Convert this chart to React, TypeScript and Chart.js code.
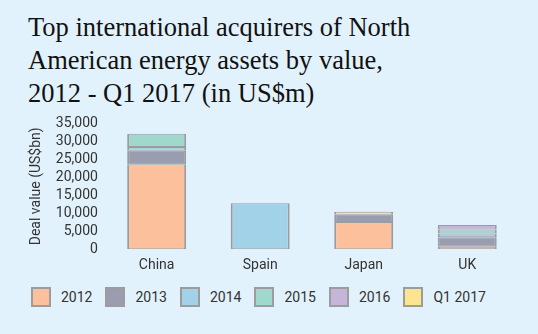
import React, { useEffect, useRef } from "react";
import { Chart, registerables } from "chart.js";

Chart.register(...registerables);

const categories = ["China", "Spain", "Japan", "UK"];
const seriesLabels = ["2012", "2013", "2014", "2015", "2016", "Q1 2017"];
const v2012 = [23600, null, 7600, 700];
const v2013 = [3800, null, 2000, 2600];
const v2014 = [1000, 12800, null, 1100];
const v2015 = [3700, null, null, 1100];
const v2016 = [null, null, null, 1200];
const vQ12017 = [null, null, 800, null];
const seriesValues = [v2012, v2013, v2014, v2015, v2016, vQ12017];
const seriesColors = ["#fdc09c", "#9a9cb0", "#a2d2e8", "#9fd9cd", "#c7b5d9", "#fde48f"];
const yTicks = [0, 5000, 10000, 15000, 20000, 25000, 30000, 35000];

const BG = "#e1f2fc";
const FONT = "Roboto, 'Open Sans', sans-serif";
const BORDER = "#9c9c9c";

export default function App() {
  const ref = useRef<HTMLCanvasElement | null>(null);

  useEffect(() => {
    document.body.style.margin = "0";
    document.body.style.background = BG;
    const chart = new Chart(ref.current!, {
      type: "bar",
      data: {
        labels: categories,
        datasets: seriesLabels.map((l, i) => ({
          label: l,
          data: seriesValues[i],
          backgroundColor: seriesColors[i],
          borderColor: BORDER,
          borderWidth: { top: 1, bottom: 1, left: 2, right: 2 },
          borderSkipped: false,
          barPercentage: 0.57,
          categoryPercentage: 1,
        })),
      },
      options: {
        animation: false,
        responsive: false,
        maintainAspectRatio: false,
        layout: { padding: { left: 28, right: 19, top: 12, bottom: 5 } },
        plugins: {
          tooltip: { enabled: false },
          legend: { display: false },
        },
        scales: {
          x: {
            stacked: true,
            grid: { display: false, drawTicks: false },
            border: { display: false },
            ticks: { color: "#333", font: { family: FONT, size: 14 }, padding: 8 },
          },
          y: {
            stacked: true,
            min: 0,
            max: 35000,
            afterBuildTicks: (axis: any) => {
              axis.ticks = yTicks.map((v) => ({ value: v }));
            },
            grid: { display: false, drawTicks: false },
            border: { display: false },
            ticks: {
              autoSkip: false,
              color: "#333",
              font: { family: FONT, size: 14 },
              padding: 7,
              callback: (v: any) => Number(v).toLocaleString("en-US"),
            },
            title: {
              display: true,
              text: "Deal value (US$bn)",
              color: "#333",
              font: { family: FONT, size: 14 },
              padding: { top: 0, bottom: 4 },
            },
          },
        },
      },
    });
    return () => chart.destroy();
  }, []);

  return (
    <div style={{ position: "relative", width: 538, height: 334, background: BG, overflow: "hidden" }}>
      <div
        style={{
          position: "absolute",
          left: 28,
          top: 11,
          fontFamily: "'Liberation Serif', 'DejaVu Serif', serif",
          fontSize: 26.5,
          lineHeight: "33px",
          color: "#111",
          whiteSpace: "nowrap",
        }}
      >
        Top international acquirers of North
        <br />
        American energy assets by value,
        <br />
        2012 - Q1 2017 (in US$m)
      </div>
      <canvas ref={ref} width={538} height={179} style={{ position: "absolute", left: 0, top: 108 }} />
      <div
        style={{
          position: "absolute",
          left: 31,
          top: 287,
          display: "flex",
          alignItems: "center",
          fontFamily: FONT,
          fontSize: 14,
          color: "#333",
          whiteSpace: "nowrap",
        }}
      >
        {seriesLabels.map((l, i) => (
          <div key={l} style={{ display: "flex", alignItems: "center", marginRight: 13 }}>
            <div
              style={{
                width: 16,
                height: 16,
                background: seriesColors[i],
                border: `2px solid ${BORDER}`,
                marginRight: 10,
              }}
            />
            <span>{l}</span>
          </div>
        ))}
      </div>
    </div>
  );
}
